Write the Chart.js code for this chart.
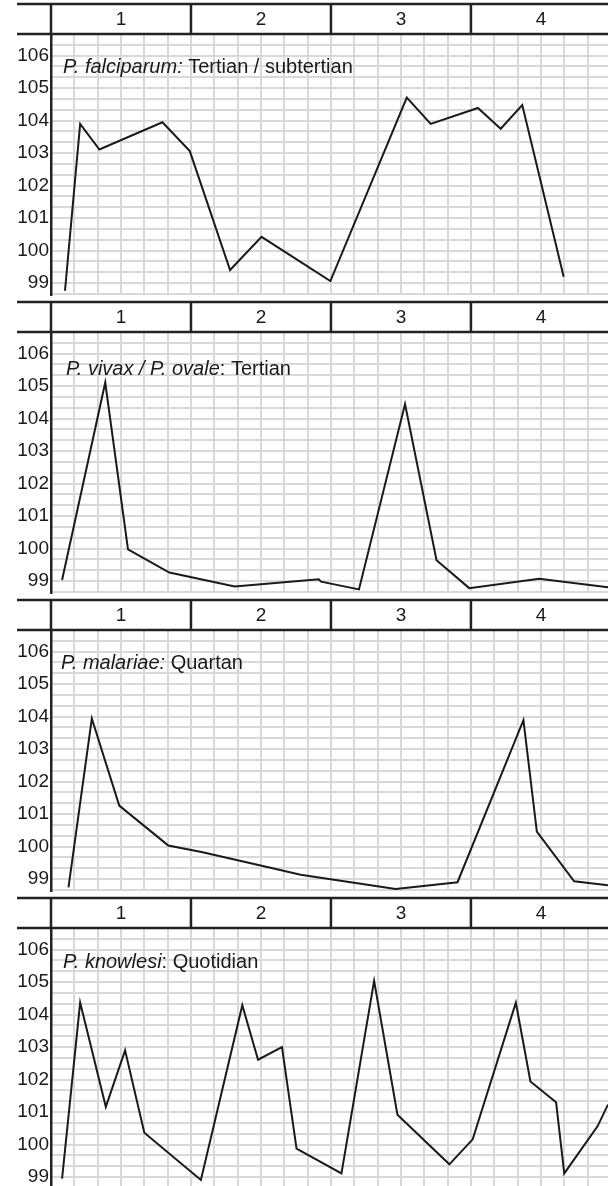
<!DOCTYPE html>
<html>
<head>
<meta charset="utf-8">
<script src="https://cdn.jsdelivr.net/npm/chart.js@4"></script>
<style>
  html, body { margin: 0; padding: 0; background: #fff; overflow: hidden; }
  .panel { width: 608px; height: 298px; position: relative; }
  canvas { display: block; }
</style>
</head>
<body>
<div class="panel"><canvas id="chart1" width="608" height="298"></canvas></div>
<div class="panel"><canvas id="chart2" width="608" height="298"></canvas></div>
<div class="panel"><canvas id="chart3" width="608" height="298"></canvas></div>
<div class="panel"><canvas id="chart4" width="608" height="298"></canvas></div>
<script>
// Day labels shown in the header row of every panel
const dayLabels = ['1', '2', '3', '4'];
// Temperature tick labels (degrees F)
const tempTicks = [99, 100, 101, 102, 103, 104, 105, 106];

// P. falciparum: hours since start / temperature
const falciparumHours = [2.4, 5.0, 8.3, 19.1, 23.8, 30.7, 36.1, 47.9, 61.0, 65.1, 73.2, 77.1, 80.8, 87.9];
const falciparumTemps = [98.76, 103.9, 103.11, 103.95, 103.06, 99.4, 100.42, 99.06, 104.71, 103.9, 104.39, 103.75, 104.48, 99.19];

// P. vivax / P. ovale
const vivaxHours = [1.9, 9.3, 13.2, 20.3, 31.5, 45.9, 46.3, 52.8, 60.7, 66.1, 71.7, 83.7, 95.5];
const vivaxTemps = [99.03, 105.11, 99.97, 99.26, 98.83, 99.05, 98.98, 98.74, 104.45, 99.64, 98.78, 99.07, 98.81];

// P. malariae
const malariaeHours = [3.0, 7.0, 11.7, 19.5, 20.1, 25.8, 36.5, 42.8, 59.1, 69.7, 81.0, 83.3, 89.7, 95.5];
const malariaeTemps = [98.74, 103.94, 101.26, 100.12, 100.03, 99.83, 99.39, 99.13, 98.69, 98.9, 103.89, 100.46, 98.93, 98.81];

// P. knowlesi
const knowlesiHours = [1.9, 5.0, 9.4, 12.7, 16.0, 25.7, 32.8, 35.5, 39.6, 42.1, 49.8, 55.4, 59.4, 68.3, 72.3, 79.7, 82.2, 86.6, 88.0, 93.7, 95.5];
const knowlesiTemps = [98.95, 104.37, 101.16, 102.9, 100.36, 98.91, 104.29, 102.61, 103.0, 99.87, 99.11, 105.04, 100.92, 99.39, 100.16, 104.37, 101.94, 101.3, 99.11, 100.56, 101.23];

const FONT = '"Liberation Sans", Arial, sans-serif';

// header band with day numbers + panel title
const headerPlugin = {
    id: 'feverHeader',
    afterDraw(chart, args, opts) {
        const ctx = chart.ctx;
        const xs = chart.scales.x;
        const top = 4;
        const bottom = chart.chartArea.top;
        ctx.save();
        ctx.strokeStyle = '#222';
        ctx.lineWidth = 2.5;
        ctx.beginPath();
        ctx.moveTo(17, top); ctx.lineTo(chart.width, top);
        ctx.moveTo(17, bottom); ctx.lineTo(chart.width, bottom);
        for (let d = 0; d < dayLabels.length; d++) {
            const px = xs.getPixelForValue(d * 24);
            ctx.moveTo(px, top); ctx.lineTo(px, bottom);
        }
        ctx.stroke();

        ctx.fillStyle = '#1a1a1a';
        ctx.font = '19px ' + FONT;
        ctx.textAlign = 'center';
        ctx.textBaseline = 'middle';
        dayLabels.forEach((lbl, d) => {
            ctx.fillText(lbl, xs.getPixelForValue(d * 24 + 12), (top + bottom) / 2 + 1);
        });

        // title: italic species name, then upright description
        ctx.textAlign = 'left';
        ctx.textBaseline = 'alphabetic';
        let tx = opts.x;
        ctx.font = 'italic 20px ' + FONT;
        ctx.fillText(opts.italic, tx, opts.y);
        tx += ctx.measureText(opts.italic).width;
        ctx.font = '20px ' + FONT;
        ctx.fillText(opts.plain, tx, opts.y);
        ctx.restore();
    }
};

function makeChart(id, hours, temps, italic, plain, titleX, titleY) {
    const ctx = document.getElementById(id).getContext('2d');
    return new Chart(ctx, {
        type: 'line',
        data: {
            datasets: [{
                data: hours.map((h, i) => ({ x: h, y: temps[i] })),
                borderColor: '#1a1a1a',
                borderWidth: 2,
                pointRadius: 0,
                tension: 0,
                fill: false
            }]
        },
        options: {
            responsive: false,
            animation: false,
            devicePixelRatio: 1,
            layout: { padding: { top: 34, bottom: 3, left: 0, right: 0 } },
            plugins: {
                legend: { display: false },
                tooltip: { enabled: false },
                feverHeader: { italic: italic, plain: plain, x: titleX, y: titleY }
            },
            scales: {
                x: {
                    type: 'linear',
                    min: 0,
                    max: 95.5,
                    afterBuildTicks: (scale) => {
                        const t = [];
                        for (let h = 0; h <= 92; h += 4) t.push({ value: h });
                        scale.ticks = t;
                    },
                    afterFit: (scale) => {
                        scale.height = 0;
                        scale.paddingLeft = 0; scale.paddingRight = 0;
                    },
                    ticks: { display: false },
                    grid: { color: '#d9d9d9', lineWidth: 2, drawTicks: false },
                    border: { display: false }
                },
                y: {
                    min: 98.63,
                    max: 106.667,
                    afterBuildTicks: (scale) => {
                        const t = [];
                        for (let k = -1; k <= 23; k++) t.push({ value: 99 + k / 3 });
                        scale.ticks = t;
                    },
                    afterFit: (scale) => {
                        scale.width = 51;
                        scale.paddingTop = 0; scale.paddingBottom = 0;
                    },
                    ticks: {
                        autoSkip: false,
                        padding: 2,
                        color: '#1a1a1a',
                        font: { size: 19, family: FONT },
                        callback: (v) => {
                            const r = Math.round(v);
                            return (Math.abs(v - r) < 1e-6 && tempTicks.includes(r)) ? String(r) : '';
                        }
                    },
                    grid: { color: '#d9d9d9', lineWidth: 2, drawTicks: false },
                    border: { display: true, color: '#222', width: 2.5 }
                }
            }
        },
        plugins: [headerPlugin]
    });
}

makeChart('chart1', falciparumHours, falciparumTemps, 'P. falciparum:', ' Tertian / subtertian', 63, 73);
makeChart('chart2', vivaxHours, vivaxTemps, 'P. vivax / P. ovale', ': Tertian', 66, 77);
makeChart('chart3', malariaeHours, malariaeTemps, 'P. malariae:', ' Quartan', 61, 73);
makeChart('chart4', knowlesiHours, knowlesiTemps, 'P. knowlesi', ': Quotidian', 63, 74);
</script>
</body>
</html>
